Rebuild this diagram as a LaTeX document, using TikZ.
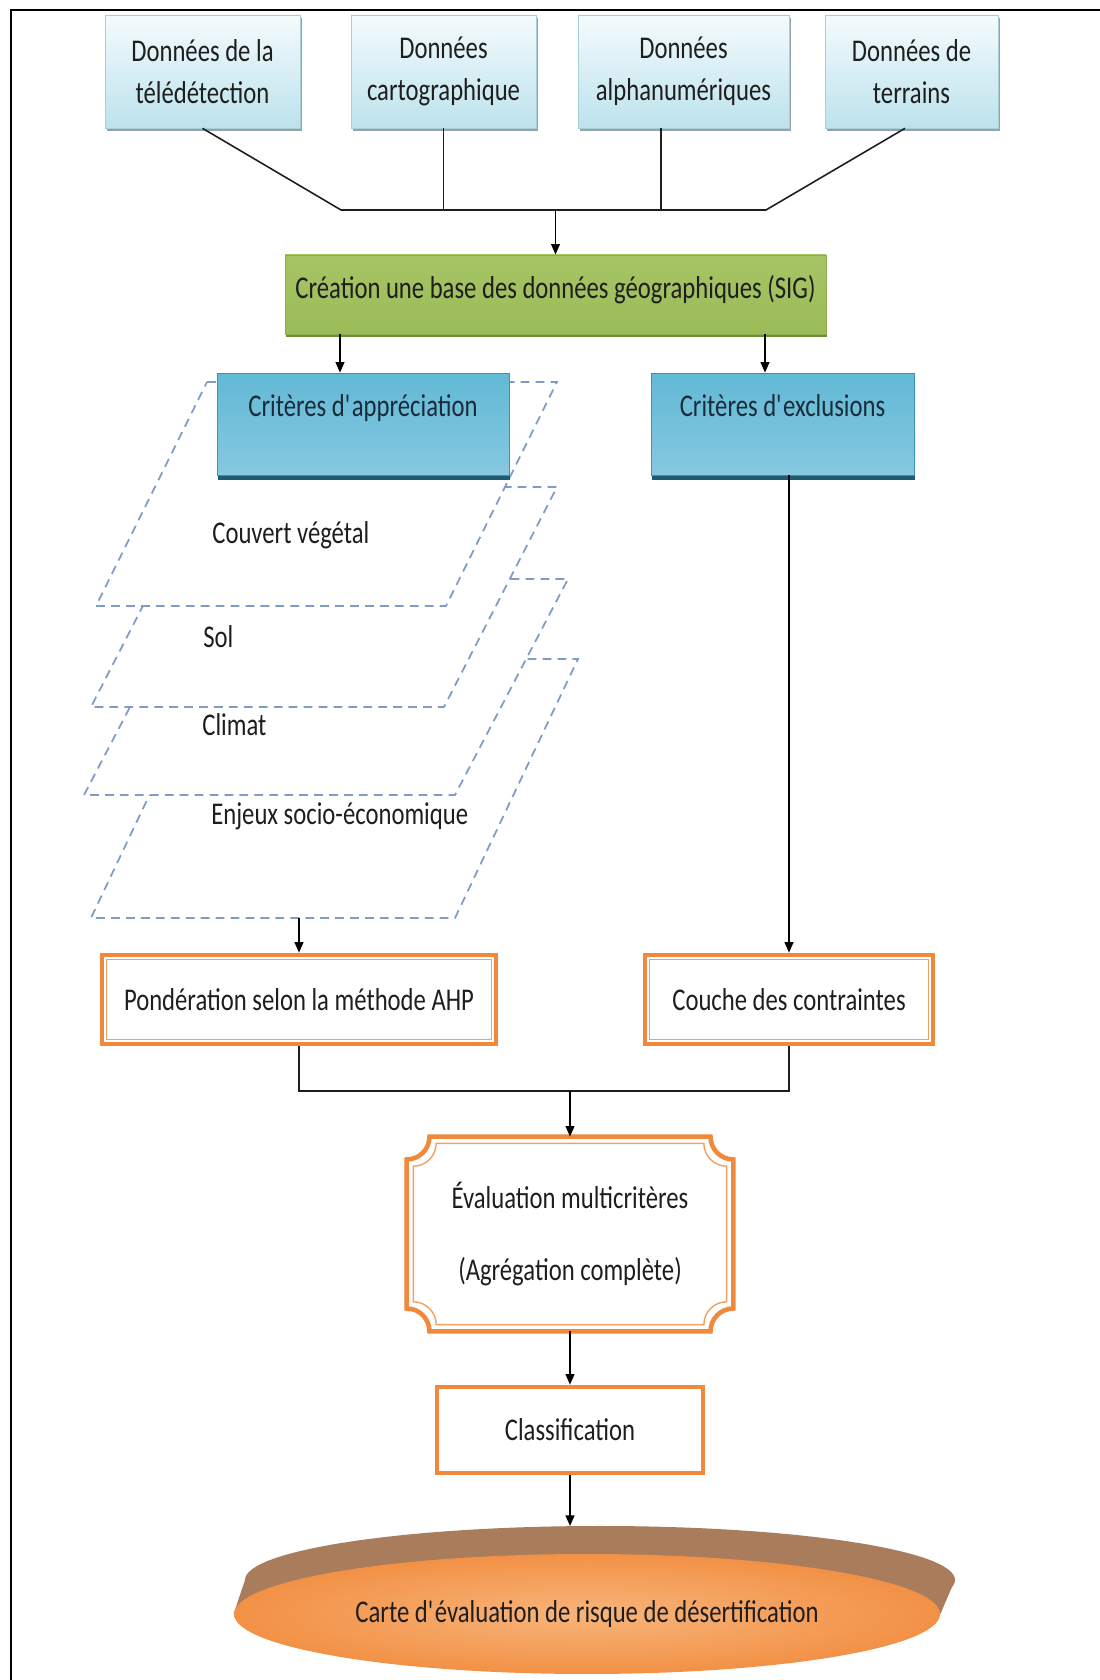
\documentclass[tikz,border=0pt]{standalone}
\usepackage{fontspec}
\newfontfamily\calibri{Carlito}[FakeStretch=0.78]
\newcommand\boxfont{\calibri\fontsize{18}{24}\selectfont}
\definecolor{ink}{HTML}{1E1E1E}
\definecolor{skytop}{HTML}{F5FBFD}
\definecolor{skybot}{HTML}{BCE2EC}
\definecolor{skyline}{HTML}{A7CFDA}
\definecolor{skyshadow}{HTML}{94A4AA}
\definecolor{greentop}{HTML}{A6C464}
\definecolor{greenmid}{HTML}{C5DA95}
\definecolor{greenbot}{HTML}{9BBB58}
\definecolor{greenline}{HTML}{8BAE4C}
\definecolor{greenshadow}{HTML}{6F8F36}
\definecolor{bluetop}{HTML}{62B9D6}
\definecolor{bluemid}{HTML}{3DA2C6}
\definecolor{bluebot}{HTML}{86C8DF}
\definecolor{blueline}{HTML}{3A93B3}
\definecolor{blueshadow}{HTML}{1E5B72}
\definecolor{bluetext}{HTML}{1A2B3C}
\definecolor{layerblue}{HTML}{7F9CC8}
\definecolor{frameorange}{HTML}{F0893B}
\definecolor{innerorange}{HTML}{F2A162}
\definecolor{diskorange}{HTML}{F29146}
\definecolor{disklight}{HTML}{F8B47A}
\definecolor{diskbrown}{HTML}{A97D5B}
\usetikzlibrary{arrows.meta,shapes.geometric,positioning,shadows,backgrounds,calc}
\tikzset{
  source_box/.style={draw=skyline,top color=skytop,bottom color=skybot,
    drop shadow={shadow xshift=1.3pt,shadow yshift=-1.5pt,fill=skyshadow,opacity=1},
    minimum height=2.26cm,font=\boxfont,text=ink,align=center},
  base_box/.style={draw=greenline,top color=greentop,middle color=greenmid,bottom color=greenbot,
    drop shadow={shadow xshift=0.6pt,shadow yshift=-1.8pt,fill=greenshadow,opacity=1},
    minimum width=10.82cm,inner ysep=0pt,text height=24.8pt,text depth=20.2pt,
    font=\boxfont,text=ink},
  crit_box/.style={draw=blueline,top color=bluetop,middle color=bluemid,bottom color=bluebot,
    drop shadow={shadow xshift=0.6pt,shadow yshift=-2.6pt,fill=blueshadow,opacity=1},
    inner ysep=0pt,text height=24.5pt,text depth=33.5pt,font=\boxfont,text=bluetext},
  frame_box/.style={draw=frameorange,line width=2.6pt,fill=white,
    minimum height=1.78cm,font=\boxfont,text=ink},
  frame_outer/.style={draw=frameorange,line width=2.6pt},
  frame_inner/.style={draw=innerorange,line width=0.8pt},
  disk/.style={ellipse,inner color=disklight,outer color=diskorange,
    minimum width=14.12cm,minimum height=2.4cm,font=\boxfont,text=ink},
  wire/.style={draw=ink,line width=0.9pt},
  arr/.style={-{Triangle[length=6pt,width=5pt]},draw=black,line width=0.9pt},
}

\begin{document}
\begin{tikzpicture}[
    layer/.style={draw=layerblue,fill=white,line width=1pt,dash pattern=on 5pt off 3.5pt},
    layer_label/.style={anchor=west,inner sep=0pt,font=\boxfont,text=ink}]

    \useasboundingbox (0,0) rectangle (22,33.6);
    \draw[line width=1.4pt] (22,33.4) -- (0.22,33.4) -- (0.22,0);

    \draw[layer] (4.28,20.42) -- (11.56,20.42) -- (9.10,15.24) -- (1.82,15.24) -- cycle;
    \draw[layer] (3.94,22.02) -- (11.36,22.02) -- (9.10,17.70) -- (1.68,17.70) -- cycle;
    \draw[layer] (4.08,23.86) -- (11.14,23.86) -- (8.88,19.46) -- (1.82,19.46) -- cycle;
    \draw[layer] (4.14,25.96) -- (11.14,25.96) -- (8.92,21.48) -- (1.92,21.48) -- cycle;

    \node[layer_label] (veg) at (4.24,22.90) {Couvert végétal};
    \node[layer_label] (sol) at (4.06,20.86) {Sol};
    \node[layer_label] (climat) at (4.04,19.10) {Climat};
    \node[layer_label] (enjeux) at (4.22,17.28) {Enjeux socio-économique};

    \node[source_box,minimum width=3.9cm] (tele) at (4.05,32.17) {Données de la\\télédétection};
    \node[source_box,minimum width=3.7cm] (carto) at (8.87,32.17) {Données\\cartographique};
    \node[source_box,minimum width=4.22cm] (alpha) at (13.67,32.17) {Données\\alphanumériques};
    \node[source_box,minimum width=3.46cm] (terrain) at (18.23,32.17) {Données de\\terrains};

    \node[base_box] (sig) at (11.11,27.71) {Création une base des données géographiques (SIG)};

    \node[crit_box,minimum width=5.84cm] (appr) at (7.26,25.12) {Critères d\textquotesingle appréciation};
    \node[crit_box,minimum width=5.26cm] (excl) at (15.65,25.12) {Critères d\textquotesingle exclusions};

    \node[frame_box,minimum width=7.88cm] (pond) at (5.98,13.61) {Pondération selon la méthode AHP};
    \node[frame_box,minimum width=5.76cm] (couche) at (15.78,13.61) {Couche des contraintes};
    \foreach \n in {pond,couche}
      \draw[frame_inner] ([shift={(3.8pt,-3.8pt)}]\n.north west) rectangle ([shift={(-3.8pt,3.8pt)}]\n.south east);

    \node[minimum width=6.52cm,minimum height=3.88cm,font=\boxfont,text=ink,align=center] (eval) at (11.40,8.92)
      {Évaluation multicritères\\[17pt](Agrégation complète)};
    \foreach \d/\s in {0pt/frame_outer,3.8pt/frame_inner}
      \draw[\s] ([shift={(\d,-\d-13pt)}]eval.north west) arc[start angle=-90,end angle=0,radius=13pt]
        -- ([shift={(-\d-13pt,-\d)}]eval.north east) arc[start angle=180,end angle=270,radius=13pt]
        -- ([shift={(-\d,\d+13pt)}]eval.south east) arc[start angle=90,end angle=180,radius=13pt]
        -- ([shift={(\d+13pt,\d)}]eval.south west) arc[start angle=0,end angle=90,radius=13pt] -- cycle;

    \node[frame_box,minimum width=5.32cm,minimum height=1.72cm] (classif) at (11.40,5.00) {Classification};

    \node[disk] (carte) at (11.74,1.32) {Carte d\textquotesingle évaluation de risque de désertification};
    \begin{scope}[on background layer]
      \fill[diskbrown] ([shift={(0.26,0.68)}]carte.center) ellipse (7.1 and 1.08);
      \fill[diskbrown] (carte.west) -- ([shift={(-6.84,0.68)}]carte.center)
        -- ([shift={(7.36,0.68)}]carte.center) -- (carte.east) -- cycle;
    \end{scope}

    \coordinate (busL) at (6.82,29.4);
    \coordinate (busR) at (15.32,29.4);
    \coordinate (layerbot) at (5.98,15.24);
    \coordinate (join) at (11.40,11.78);
    \coordinate (cartetop) at (11.40,3.08);

    \draw[wire] (tele.south) -- (busL) -- (busR) -- ([xshift=-0.13cm]terrain.south);
    \draw[wire] (carto.south) -- (carto.south |- busL);
    \draw[wire] ([xshift=-0.45cm]alpha.south) -- ([xshift=-0.45cm]alpha.south |- busL);
    \draw[arr] (sig.north |- busL) -- (sig.north);
    \draw[arr] ([xshift=-0.46cm]appr.north |- sig.south) -- ([xshift=-0.46cm]appr.north);
    \draw[arr] ([xshift=-0.35cm]excl.north |- sig.south) -- ([xshift=-0.35cm]excl.north);
    \draw[arr] (couche.north |- excl.south) -- (couche.north);
    \draw[arr] (layerbot) -- (pond.north);
    \draw[wire] (pond.south) |- (join) -| (couche.south);
    \draw[arr] (join) -- (eval.north);
    \draw[arr] (eval.south) -- (classif.north);
    \draw[arr] (classif.south) -- (cartetop);
  \end{tikzpicture}
\end{document}
